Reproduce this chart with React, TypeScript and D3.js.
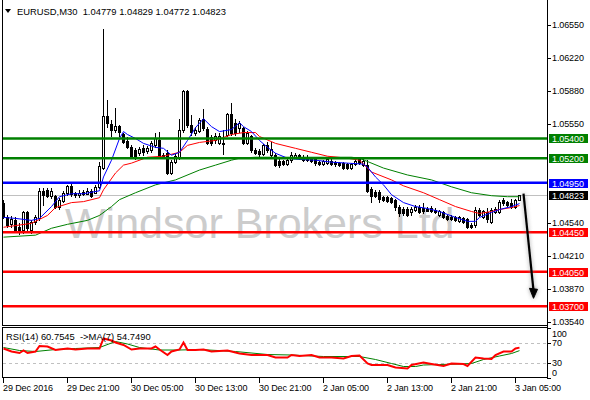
import * as d3 from "d3";

// EURUSD M30, bars from 29 Dec 13:00 to 3 Jan 05:30
const opens = [
  1.0475, 1.046, 1.0453, 1.0457, 1.045, 1.0447, 1.0465, 1.0447, 1.0455, 1.0459,
  1.0487, 1.0488, 1.0482, 1.0482, 1.0471, 1.0477, 1.0485, 1.0492, 1.0485, 1.0483,
  1.0486, 1.0484, 1.0487, 1.0485, 1.0491, 1.051, 1.0563, 1.0555, 1.0549, 1.0553,
  1.0545, 1.0537, 1.0531, 1.0528, 1.0525, 1.053, 1.0527, 1.0528, 1.0533, 1.0538,
  1.0523, 1.0525, 1.0505, 1.0516, 1.052, 1.0549, 1.0588, 1.0554, 1.0546, 1.0548,
  1.056, 1.055, 1.0541, 1.0538, 1.0535, 1.0535, 1.0544, 1.0565, 1.0556, 1.0551,
  1.0551, 1.0535, 1.0542, 1.0528, 1.0527, 1.0524, 1.0533, 1.0523, 1.0523, 1.0517,
  1.0517, 1.0514, 1.0518, 1.0521, 1.0523, 1.0521, 1.0521, 1.052, 1.0519, 1.0516,
  1.0514, 1.0515, 1.0517, 1.0516, 1.0515, 1.0515, 1.0514, 1.051, 1.0514, 1.0519,
  1.0513, 1.0513, 1.0489, 1.0486, 1.0486, 1.0481, 1.0481, 1.048, 1.0478, 1.0471,
  1.0469, 1.0469, 1.0465, 1.0468, 1.0471, 1.047, 1.0469, 1.047, 1.0468, 1.0462,
  1.0465, 1.0461, 1.046, 1.046, 1.0456, 1.0459, 1.0458, 1.0452, 1.0452, 1.0468,
  1.046, 1.0465, 1.0455, 1.0465, 1.0465, 1.0478, 1.0476, 1.0475, 1.0471, 1.04779,
];
const highs = [
  1.0478, 1.0462, 1.0461, 1.046, 1.0454, 1.0467, 1.0466, 1.0457, 1.0462, 1.049,
  1.049, 1.049, 1.049, 1.0483, 1.048, 1.0487, 1.0493, 1.0494, 1.0486, 1.0488,
  1.0488, 1.049, 1.0489, 1.0493, 1.0516, 1.0651, 1.0579, 1.0559, 1.0571, 1.0554,
  1.0546, 1.0541, 1.0533, 1.053, 1.0531, 1.0533, 1.0532, 1.0537, 1.0546, 1.0547,
  1.0525, 1.0528, 1.0518, 1.0524, 1.056, 1.0589, 1.0589, 1.0564, 1.0552, 1.0561,
  1.057, 1.0552, 1.0544, 1.0546, 1.0546, 1.0549, 1.0566, 1.0576, 1.056, 1.0558,
  1.0552, 1.0548, 1.0544, 1.053, 1.0529, 1.0534, 1.0536, 1.0536, 1.0525, 1.0519,
  1.0518, 1.052, 1.0526, 1.0525, 1.0524, 1.0523, 1.0523, 1.0521, 1.0521, 1.0517,
  1.0518, 1.0521, 1.0519, 1.0517, 1.0516, 1.0516, 1.0515, 1.0515, 1.0519, 1.0521,
  1.052, 1.0518, 1.0491, 1.0488, 1.0488, 1.0482, 1.0482, 1.0481, 1.0479, 1.0473,
  1.0471, 1.0471, 1.0471, 1.0473, 1.0473, 1.0475, 1.0471, 1.0472, 1.047, 1.0468,
  1.0466, 1.0462, 1.0462, 1.0461, 1.0461, 1.046, 1.0459, 1.0454, 1.0471, 1.047,
  1.0468, 1.047, 1.047, 1.0471, 1.0478, 1.048, 1.0477, 1.0479, 1.0479, 1.04829,
];
const lows = [
  1.0459, 1.045, 1.045, 1.0445, 1.0443, 1.0444, 1.0445, 1.0444, 1.0453, 1.0457,
  1.0473, 1.0481, 1.048, 1.047, 1.0469, 1.0476, 1.0483, 1.0482, 1.0481, 1.0481,
  1.0483, 1.0484, 1.0481, 1.0485, 1.049, 1.0509, 1.0552, 1.0543, 1.0547, 1.0542,
  1.0535, 1.053, 1.052, 1.0519, 1.0523, 1.0523, 1.0525, 1.0526, 1.0531, 1.052,
  1.052, 1.0504, 1.0504, 1.0515, 1.0519, 1.0547, 1.0552, 1.0544, 1.0544, 1.0547,
  1.0549, 1.0534, 1.0533, 1.0535, 1.0534, 1.0524, 1.0542, 1.0544, 1.0544, 1.0547,
  1.0534, 1.0534, 1.0526, 1.0524, 1.0522, 1.0523, 1.0526, 1.0522, 1.0512, 1.0511,
  1.0513, 1.0513, 1.0516, 1.052, 1.0519, 1.0517, 1.0517, 1.0516, 1.0513, 1.0513,
  1.0513, 1.0514, 1.0513, 1.0512, 1.0512, 1.0509, 1.0509, 1.0509, 1.0513, 1.0514,
  1.0512, 1.0486, 1.0476, 1.0481, 1.0476, 1.0477, 1.0476, 1.0475, 1.0468, 1.0461,
  1.0462, 1.0461, 1.0462, 1.0466, 1.0464, 1.0464, 1.0466, 1.0465, 1.0464, 1.0461,
  1.0459, 1.0457, 1.0457, 1.0456, 1.0455, 1.0454, 1.0449, 1.0449, 1.045, 1.0461,
  1.0459, 1.0455, 1.0454, 1.0464, 1.0464, 1.0473, 1.0472, 1.047, 1.047, 1.04772,
];
const closes = [
  1.046, 1.0452, 1.0458, 1.0447, 1.0446, 1.0465, 1.0449, 1.0455, 1.046, 1.0487,
  1.0483, 1.0482, 1.0487, 1.0471, 1.0478, 1.0485, 1.0492, 1.0484, 1.0483, 1.0485,
  1.0484, 1.0487, 1.0482, 1.0491, 1.0512, 1.0563, 1.0556, 1.0549, 1.0553, 1.0547,
  1.0536, 1.0531, 1.0521, 1.0521, 1.0529, 1.0526, 1.053, 1.0535, 1.054, 1.0521,
  1.0521, 1.0505, 1.0516, 1.0522, 1.0549, 1.0588, 1.0554, 1.0547, 1.0549, 1.0559,
  1.0551, 1.0535, 1.0535, 1.0543, 1.0543, 1.0534, 1.0565, 1.0546, 1.0546, 1.0556,
  1.0535, 1.0546, 1.0528, 1.0525, 1.0524, 1.0533, 1.0528, 1.0529, 1.0513, 1.0513,
  1.0514, 1.0518, 1.0523, 1.0523, 1.052, 1.0518, 1.0518, 1.0517, 1.0515, 1.0514,
  1.0517, 1.0519, 1.0514, 1.0514, 1.0513, 1.051, 1.051, 1.0514, 1.0517, 1.0515,
  1.0517, 1.0487, 1.0482, 1.0482, 1.0479, 1.0478, 1.0477, 1.0476, 1.0471, 1.0464,
  1.0464, 1.0462, 1.0469, 1.0471, 1.0465, 1.0466, 1.0467, 1.0466, 1.0465, 1.0466,
  1.046, 1.0458, 1.0458, 1.0457, 1.046, 1.0455, 1.045, 1.045, 1.0468, 1.0462,
  1.0466, 1.0458, 1.0468, 1.0469, 1.0476, 1.0475, 1.0473, 1.0471, 1.0478, 1.04823,
];

// moving averages: [bar, price]
const maBlue: [number, number][] = [
  [0, 1.046], [3, 1.0459], [7, 1.0457], [9, 1.0459], [12, 1.0471], [14, 1.0481], [17, 1.0484],
  [20, 1.0484], [24, 1.0487], [25, 1.0501], [27, 1.0518], [29, 1.054], [30, 1.0547], [31, 1.0544],
  [33, 1.054], [35, 1.0535], [38, 1.0531], [40, 1.053], [42, 1.0523], [44, 1.0526], [46, 1.0538],
  [48, 1.0551], [50, 1.056], [52, 1.0552], [54, 1.0547], [57, 1.0549], [59, 1.0556], [60, 1.0552],
  [62, 1.0547], [64, 1.0538], [66, 1.0531], [68, 1.0525], [71, 1.052], [73, 1.0519], [78, 1.0518],
  [82, 1.0516], [86, 1.0515], [90, 1.0514], [91, 1.0511], [93, 1.0501], [95, 1.0493], [97, 1.0483],
  [100, 1.0475], [103, 1.0471], [106, 1.0469], [109, 1.0466], [113, 1.046], [116, 1.0456],
  [118, 1.0456], [119, 1.046], [122, 1.0465], [124, 1.0468], [127, 1.0471], [129, 1.0474],
];
const maRed: [number, number][] = [
  [0, 1.045], [7, 1.0454], [11, 1.0462], [13, 1.047], [17, 1.0475], [20, 1.0476], [24, 1.048],
  [25, 1.0488], [28, 1.0505], [30, 1.0513], [32, 1.0515], [36, 1.0521], [40, 1.0522], [44, 1.0526],
  [46, 1.0533], [49, 1.0536], [53, 1.0538], [57, 1.0544], [60, 1.0546], [63, 1.0546], [64, 1.0542],
  [68, 1.0535], [73, 1.053], [77, 1.0526], [81, 1.0522], [86, 1.052], [89, 1.0518], [92, 1.0506],
  [97, 1.0498], [100, 1.0492], [105, 1.0485], [109, 1.0478], [113, 1.0471], [117, 1.0466],
  [119, 1.0464], [122, 1.0466], [124, 1.0468], [127, 1.047], [129, 1.0472],
];
const maGreen: [number, number][] = [
  [0, 1.044], [8, 1.0442], [12, 1.0449], [16, 1.0453], [21, 1.0457], [24, 1.0462], [27, 1.0471],
  [29, 1.0478], [33, 1.0485], [38, 1.0493], [43, 1.0498], [49, 1.0508], [53, 1.0513], [57, 1.0518],
  [59, 1.052], [63, 1.0521], [75, 1.0521], [87, 1.0521], [89, 1.052], [95, 1.051], [101, 1.0503],
  [107, 1.0498], [112, 1.0491], [117, 1.0485], [122, 1.0482], [126, 1.0481], [129, 1.0481],
];

// RSI(14) and its MA(7): [bar, value]
const rsi: [number, number][] = [
  [0, 59], [2, 53], [4, 50], [5, 55], [6, 50], [8, 53], [9, 64], [11, 63], [13, 56], [16, 59],
  [18, 57], [21, 59], [24, 59], [25, 79], [27, 75], [28, 71], [30, 66], [32, 57], [34, 59],
  [37, 59], [38, 63], [39, 57], [41, 46], [42, 53], [44, 57], [45, 71], [46, 56], [48, 56],
  [50, 57], [52, 53], [56, 55], [59, 49], [62, 46], [66, 46], [68, 41], [71, 41], [72, 46],
  [74, 44], [77, 46], [79, 41], [82, 41], [85, 39], [87, 44], [89, 45], [91, 29], [92, 26],
  [96, 26], [98, 21], [101, 19], [102, 26], [105, 31], [107, 28], [110, 24], [112, 29],
  [115, 28], [116, 24], [118, 41], [120, 39], [122, 38], [123, 46], [125, 53], [127, 53],
  [128, 59], [129, 60.75],
];
const rsiMa: [number, number][] = [
  [0, 61], [4, 55], [8, 53], [13, 57], [18, 59], [24, 61], [28, 73], [31, 68], [34, 61], [39, 56],
  [44, 56], [49, 57], [58, 53], [66, 47], [72, 46], [80, 43], [89, 43], [93, 37], [97, 29],
  [100, 23], [103, 23], [105, 26], [109, 27], [114, 28], [117, 29], [120, 37], [124, 44],
  [127, 49], [129, 54.75],
];

const priceTicks = [1.0655, 1.0622, 1.0588, 1.0555, 1.0454, 1.0421, 1.0387, 1.0354];
const greenLevels = [1.054, 1.052];
const blueLevels = [1.0495];
const redLevels = [1.0445, 1.0405, 1.037];
const lastPrice = 1.04823;
const rsiTicks = [100, 70, 30, 0];
const rsiLevels = [70, 30];
const timeTickBars = [0, 16, 32, 48, 64, 80, 96, 112, 128];
const timeTickLabels = [
  "29 Dec 2016", "29 Dec 21:00", "30 Dec 05:00", "30 Dec 13:00", "30 Dec 21:00",
  "2 Jan 05:00", "2 Jan 13:00", "2 Jan 21:00", "3 Jan 05:00",
];
const arrowStart = { bar: 130, price: 1.0484 };
const arrowEnd = { bar: 132.5, price: 1.0386 };
const arrowTip = { bar: 132.5, price: 1.0378 };

const font = "'Liberation Sans', Arial, sans-serif";

function App() {
  const x = d3.scaleLinear().domain([0, 129]).range([3, 519]);
  const y = d3.scaleLinear().domain([1.0354, 1.0655]).range([322, 25]);
  const ry = d3.scaleLinear().domain([0, 100]).range([378, 328]);
  const right = 547;

  const maPath = d3.line<[number, number]>().x((d) => x(d[0]) + 0.5).y((d) => y(d[1]));
  const rsiPath = d3.line<[number, number]>().x((d) => x(d[0]) + 0.5).y((d) => ry(d[1]));

  const levelLine = (p: number, color: string, key: string) => (
    <line key={key} x1={2} x2={right} y1={y(p)} y2={y(p)} stroke={color} strokeWidth={2.5} />
  );
  const labelBox = (p: number, color: string, key: string) => (
    <g key={key}>
      <rect x={549} y={Math.round(y(p)) - 4} width={39} height={9} fill={color} />
      <text x={552} y={Math.round(y(p)) + 1} fill="#fff" dominantBaseline="central">{p.toFixed(5)}</text>
    </g>
  );

  const ax = x(arrowStart.bar) + 0.5, ay = y(arrowStart.price);
  const bx = x(arrowEnd.bar) + 0.5, by = y(arrowEnd.price);
  const tx = x(arrowTip.bar) + 0.5, ty = y(arrowTip.price);
  const arrow = (
    <g>
      <line x1={ax} y1={ay} x2={bx} y2={by} strokeWidth={2.2} />
      <polygon points={`${tx},${ty} ${tx - 4},${ty - 10} ${tx + 4},${ty - 9}`} />
    </g>
  );

  return (
    <svg width={590} height={400} style={{ position: "absolute", left: 0, top: 0, background: "#fff" }}
      fontFamily={font} fontSize={9} letterSpacing={-0.1}>
      <defs>
        <filter id="shadow" x="-50%" y="-10%" width="200%" height="120%">
          <feGaussianBlur stdDeviation={2} />
        </filter>
      </defs>

      {/* watermark */}
      <text x={65} y={238} fontSize={43} fill="#cccccc" letterSpacing={0}>Windsor Brokers Ltd</text>

      {/* current price line */}
      <line x1={2} x2={right} y1={Math.round(y(lastPrice)) + 0.5} y2={Math.round(y(lastPrice)) + 0.5} stroke="#c0c0c0" />

      {/* candles */}
      <g shapeRendering="crispEdges">
        {opens.map((o, i) => {
          const c = closes[i];
          const cx = Math.round(x(i));
          const hi = Math.round(y(highs[i]));
          const lo = Math.round(y(lows[i]));
          const top = Math.round(y(Math.max(o, c)));
          const bot = Math.round(y(Math.min(o, c)));
          const bh = Math.max(1, bot - top + 1);
          return (
            <g key={i}>
              <rect x={cx} y={hi} width={1} height={lo - hi + 1} fill="#000" />
              <rect x={cx - 1} y={top} width={3} height={bh} fill="#000" />
              {c > o && bh > 2 && <rect x={cx} y={top + 1} width={1} height={bh - 2} fill="#fff" />}
            </g>
          );
        })}
      </g>

      {/* moving averages */}
      <path d={maPath(maGreen)!} fill="none" stroke="#008000" strokeWidth={1} />
      <path d={maPath(maRed)!} fill="none" stroke="#ff0000" strokeWidth={1} />
      <path d={maPath(maBlue)!} fill="none" stroke="#0000ff" strokeWidth={1} />

      {/* horizontal levels */}
      {greenLevels.map((p, i) => levelLine(p, "#008000", "g" + i))}
      {blueLevels.map((p, i) => levelLine(p, "#0000ff", "b" + i))}
      {redLevels.map((p, i) => levelLine(p, "#ff0000", "r" + i))}

      {/* arrow with shadow */}
      <g stroke="#888" fill="#888" filter="url(#shadow)" opacity={0.8}>{arrow}</g>
      <g stroke="#000" fill="#000">{arrow}</g>

      {/* frames */}
      <g stroke="#000" strokeWidth={1} shapeRendering="crispEdges" fill="none">
        <line x1={2.5} x2={2.5} y1={0} y2={326} />
        <line x1={2} x2={right + 0.5} y1={325.5} y2={325.5} />
        <line x1={right + 0.5} x2={right + 0.5} y1={0} y2={378} />
        <rect x={2.5} y={327.5} width={right - 2} height={50} />
      </g>

      {/* price axis */}
      {priceTicks.map((p) => (
        <g key={p}>
          <line x1={right} x2={right + 4} y1={Math.round(y(p)) + 0.5} y2={Math.round(y(p)) + 0.5} stroke="#000" />
          <text x={552} y={Math.round(y(p))} dominantBaseline="central" fill="#000">{p.toFixed(5)}</text>
        </g>
      ))}
      {greenLevels.map((p, i) => labelBox(p, "#008000", "lg" + i))}
      {blueLevels.map((p, i) => labelBox(p, "#0000ff", "lb" + i))}
      {redLevels.map((p, i) => labelBox(p, "#ff0000", "lr" + i))}
      {labelBox(lastPrice, "#000", "last")}

      {/* title */}
      <polygon points="5,9 11,9 8,13" fill="#000" />
      <text x={17} y={11} fontSize={9.4} letterSpacing={0} dominantBaseline="central" fill="#000" style={{ whiteSpace: "pre" }}>
        {"EURUSD,M30  1.04779 1.04829 1.04772 1.04823"}
      </text>

      {/* RSI panel */}
      {rsiLevels.map((v) => (
        <line key={v} x1={3} x2={right} y1={Math.round(ry(v)) + 0.5} y2={Math.round(ry(v)) + 0.5}
          stroke="#c0c0c0" strokeDasharray="3,3" />
      ))}
      <path d={rsiPath(rsiMa)!} fill="none" stroke="#008000" strokeWidth={1} />
      <path d={rsiPath(rsi)!} fill="none" stroke="#ff0000" strokeWidth={2} />
      <text x={6} y={336} fontSize={9.4} letterSpacing={0} dominantBaseline="central" fill="#000" style={{ whiteSpace: "pre" }}>
        {"RSI(14) 60.7545  ->MA(7) 54.7490"}
      </text>
      {rsiTicks.map((v) => (
        <g key={v}>
          <line x1={right} x2={right + 4} y1={Math.round(ry(v)) + 0.5} y2={Math.round(ry(v)) + 0.5} stroke="#000" />
          <text x={552} y={Math.min(373, Math.max(333.5, ry(v)))} dominantBaseline="central" fill="#000">{v}</text>
        </g>
      ))}

      {/* time axis */}
      {timeTickBars.map((b, i) => (
        <g key={b}>
          <line x1={Math.round(x(b)) + 0.5} x2={Math.round(x(b)) + 0.5} y1={378} y2={383} stroke="#000" />
          <text x={Math.round(x(b))} y={388} dominantBaseline="central" fill="#000">{timeTickLabels[i]}</text>
        </g>
      ))}
    </svg>
  );
}

export default App;
